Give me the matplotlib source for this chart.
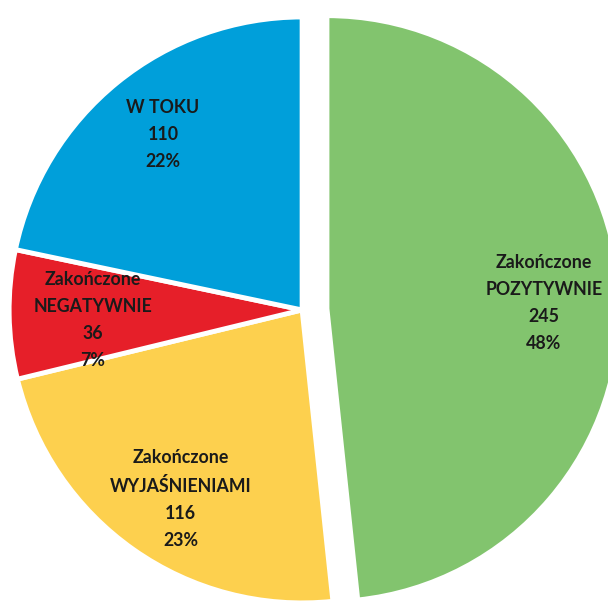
import matplotlib
matplotlib.use("Agg")
import matplotlib.pyplot as plt

categories = ["Zakończone\nPOZYTYWNIE", "Zakończone\nWYJAŚNIENIAMI", "Zakończone\nNEGATYWNIE", "W TOKU"]
values = [245, 116, 36, 110]
colors = ["#82C46E", "#FDD04E", "#E61F29", "#009FDA"]
explode = [0.085, 0, 0, 0]

total = sum(values)
labels = [f"{c}\n{v}\n{round(100 * v / total)}%" for c, v in zip(categories, values)]

# label block centres (data units, pie radius = 1)
label_pos = [(0.825, 0.025), (-0.415, -0.645), (-0.715, -0.035), (-0.475, 0.60)]

fig = plt.figure(figsize=(6.08, 6.07), dpi=100)
ax = fig.add_axes([0, 0, 1, 1])
wedges, texts = ax.pie(values, labels=labels, colors=colors, explode=explode,
                       startangle=90, counterclock=False, radius=1.0,
                       labeldistance=0.77,
                       wedgeprops=dict(edgecolor="white", linewidth=3.5),
                       textprops=dict(fontsize=12.8, fontfamily="Lato", fontweight="bold",
                                      color="#1a1a1a", linespacing=1.72))
for t, p in zip(texts, label_pos):
    t.set_position(p)
    t.set_ha("center")
    t.set_va("center")
    t.set_multialignment("center")

ax.set_aspect("equal")
ax.set_xlim(-1.031, 1.044)
ax.set_ylim(-1.014, 1.058)
ax.axis("off")
fig.savefig("out.png", dpi=100, facecolor="white")
